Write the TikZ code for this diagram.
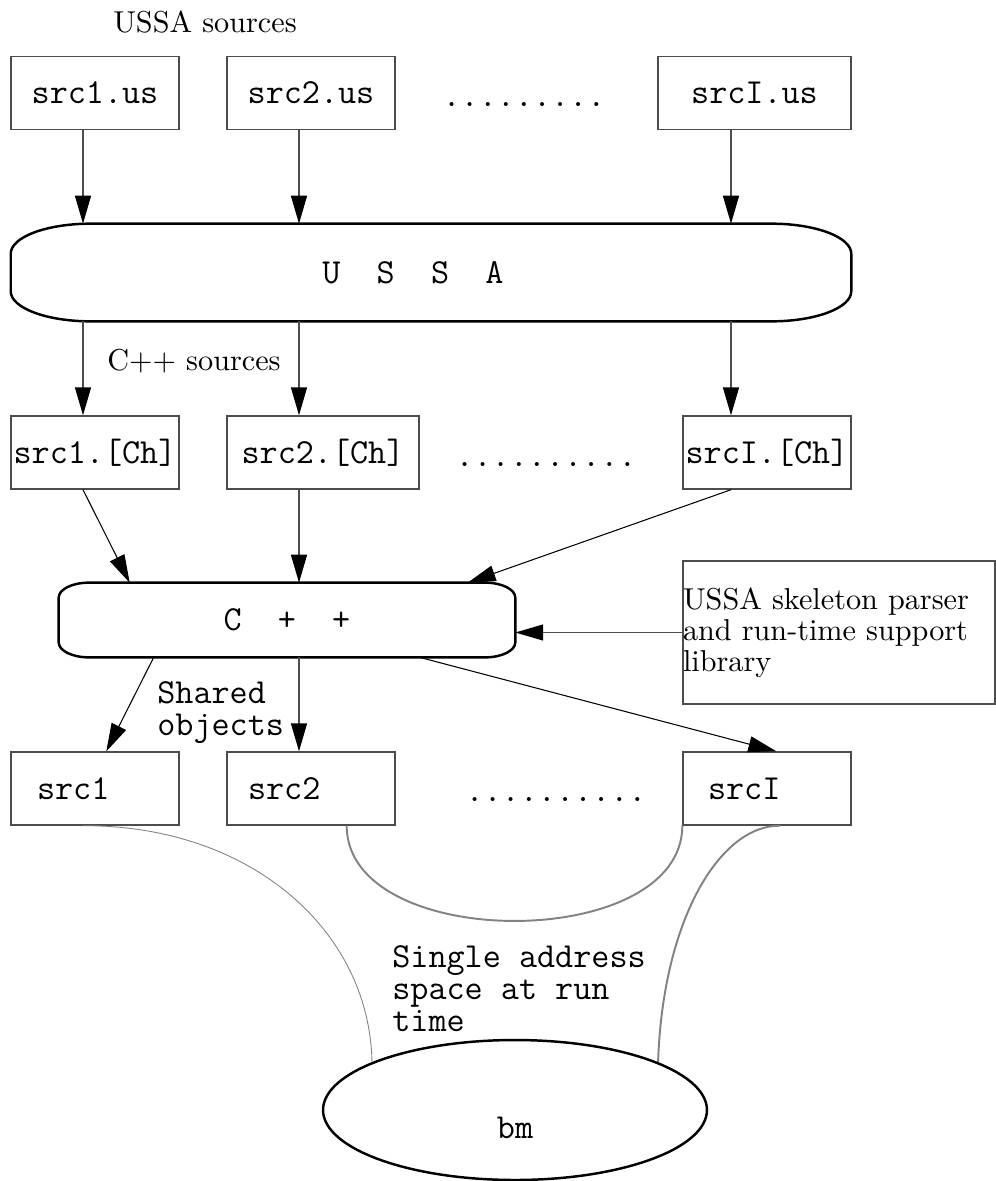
\documentclass[tikz,border=0pt]{standalone}
\usepackage{fontspec}
\newfontfamily\palx{lmroman10-regular.otf}
\usetikzlibrary{arrows.meta,calc,shapes.geometric}
\definecolor{boxgray}{HTML}{4D4D4D}
\definecolor{curvegray}{HTML}{828282}
\newcommand\monof{\ttfamily\fontsize{20}{18.2}\selectfont}
\newcommand\seriff{\palx\fontsize{17.2}{17.6}\selectfont}
\begin{document}
\begin{tikzpicture}[x=0.02cm,y=-0.02cm,
  box/.style={draw=boxgray, line width=0.8pt, inner sep=0pt, minimum height=1.46cm, font=\monof, align=center},
  rbox/.style={draw=black, line width=1.4pt},
  dotrow/.style={font=\monof, inner sep=0pt, anchor=base},
  lbl/.style={font=\seriff, inner sep=0pt},
  mlbl/.style={font=\monof, inner sep=0pt, align=left, anchor=west},
  arr/.style={draw=boxgray, line width=0.8pt, -{Triangle[length=15.9pt,width=9.1pt,color=black]}},
  darr/.style={draw=black, line width=0.6pt, -{Triangle[length=15.9pt,width=9.1pt,color=black]}},
  thinc/.style={draw=curvegray, line width=0.5pt},
  medc/.style={draw=curvegray, line width=1.1pt}]
\useasboundingbox (0,0) rectangle (996,1181);

\coordinate (c1) at (83,0);
\coordinate (c2) at (299,0);
\coordinate (c3) at (731,0);

% row 1
\node[lbl] (t1) at (205,22) {USSA sources};
\node[box, minimum width=3.36cm] (s1u) at (95,93) {src1.us};
\node[box, minimum width=3.36cm] (s2u) at (311,93) {src2.us};
\node[dotrow] (d1) at (524,106) {.........};
\node[box, minimum width=3.86cm] (sIu) at (754.5,93) {srcI.us};

% USSA
\node[inner sep=0pt, minimum width=16.8cm, minimum height=1.94cm, font=\monof] (ussa) at (431,272.5) {U~~S~~S~~A\hphantom{xx}};
\draw[rbox] ([yshift=-0.6cm]ussa.north west) arc[start angle=180,end angle=90,x radius=1.6cm,y radius=0.6cm]
  -- ([xshift=-1.6cm]ussa.north east) arc[start angle=90,end angle=0,x radius=1.6cm,y radius=0.6cm]
  -- ([yshift=0.6cm]ussa.south east) arc[start angle=0,end angle=-90,x radius=1.6cm,y radius=0.6cm]
  -- ([xshift=1.6cm]ussa.south west) arc[start angle=270,end angle=180,x radius=1.6cm,y radius=0.6cm]
  -- cycle;

% row 2
\node[lbl] (t2) at (194,361) {C++ sources};
\node[box, minimum width=3.36cm] (s1c) at (95,452.5) {src1.[Ch]};
\node[box, minimum width=3.84cm] (s2c) at (323,452.5) {src2.[Ch]};
\node[dotrow] (d2) at (546,466) {..........};
\node[box, minimum width=3.36cm] (sIc) at (767,452.5) {srcI.[Ch]};

% C++
\node[inner sep=0pt, minimum width=9.12cm, minimum height=1.48cm, font=\monof] (cpp) at (287,620) {C~~+~~+};
\draw[rbox] ([yshift=-0.3cm]cpp.north west) arc[start angle=180,end angle=90,x radius=0.6cm,y radius=0.3cm]
  -- ([xshift=-0.6cm]cpp.north east) arc[start angle=90,end angle=0,x radius=0.6cm,y radius=0.3cm]
  -- ([yshift=0.3cm]cpp.south east) arc[start angle=0,end angle=-90,x radius=0.6cm,y radius=0.3cm]
  -- ([xshift=0.6cm]cpp.south west) arc[start angle=270,end angle=180,x radius=0.6cm,y radius=0.3cm]
  -- cycle;

\node[draw=boxgray, line width=0.8pt, inner sep=0pt, minimum width=6.24cm, minimum height=2.86cm,
  text width=6.24cm, align=left, font=\seriff] (skel) at (839,632.5)
  {USSA skeleton parser\\and run-time support\\library};

% row 3
\node[mlbl] (so) at (157,713) {Shared\\objects};
\node[box, minimum width=3.36cm, text width=2.32cm, inner xsep=0.52cm, align=left] (s1o) at (95,788.5) {src1};
\node[box, minimum width=3.36cm, text width=2.52cm, inner xsep=0.42cm, align=left] (s2o) at (311,788.5) {src2};
\node[dotrow] (d3) at (556,801) {..........};
\node[box, minimum width=3.36cm, text width=2.36cm, inner xsep=0.5cm, align=left] (sIo) at (767,788.5) {srcI};

% bottom
\node[mlbl] (sa) at (392,989) {Single address\\space at run\\time};

% curves
\draw[thinc] (s1o.south -| c1) .. controls (250,825) and (370,930) .. (372,1063);
\draw[medc] ($(s2o.south east)+(-49,0)$) .. controls +(0,127) and +(0,127) .. (sIo.south west);
\draw[medc] ($(sIo.south)+(13,0)$) .. controls (720,825) and (662,920) .. (658,1065);

\node[draw=black, ellipse, line width=1.4pt, fill=white, minimum width=7.68cm, minimum height=2.8cm, inner sep=0pt, font=\monof]
  (bm) at (515,1110) {\raisebox{-0.36cm}[\height][\depth]{bm}};

% arrows
\draw[arr] (s1u.south -| c1) -- (ussa.north -| c1);
\draw[arr] (s2u.south -| c2) -- (ussa.north -| c2);
\draw[arr] (sIu.south -| c3) -- (ussa.north -| c3);
\draw[arr] (ussa.south -| c1) -- (s1c.north -| c1);
\draw[arr] (ussa.south -| c2) -- (s2c.north -| c2);
\draw[arr] (ussa.south -| c3) -- (sIc.north -| c3);
\draw[darr] (s1c.south -| c1) -- ($(cpp.north west)+(71,0)$);
\draw[arr] (s2c.south -| c2) -- (cpp.north -| c2);
\draw[darr] (sIc.south -| c3) -- ($(cpp.north west)+(409,0)$);
\draw[arr] (skel.west) -- (skel.west -| cpp.east);
\draw[darr] ($(cpp.south west)+(95,0)$) -- ($(s1o.north west)+(96,0)$);
\draw[arr] (cpp.south -| c2) -- (s2o.north -| c2);
\draw[darr] ($(cpp.south west)+(361,0)$) -- ($(sIo.north west)+(94,0)$);
\end{tikzpicture}
\end{document}
